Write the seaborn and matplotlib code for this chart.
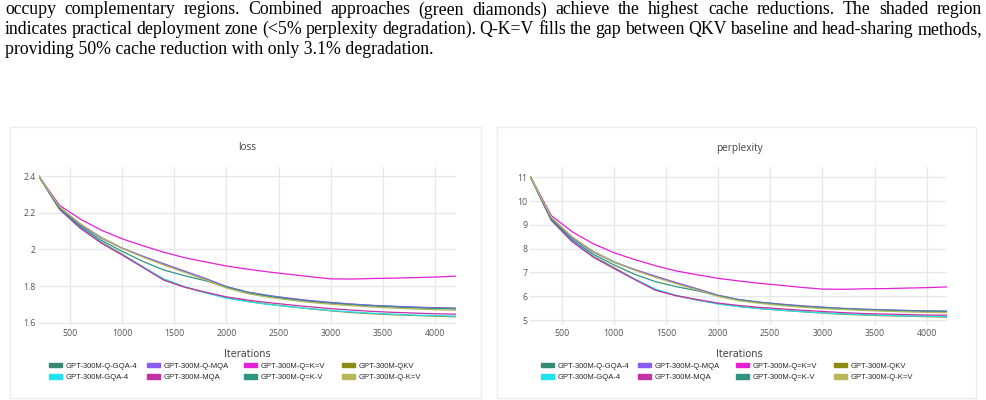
import matplotlib

matplotlib.use("Agg")
import matplotlib.pyplot as plt
from matplotlib.patches import Patch, Rectangle
import pandas as pd
import seaborn as sns

# ---- data ----
iterations = list(range(200, 4201, 200))

models = [
    "GPT-300M-Q-GQA-4", "GPT-300M-Q-MQA", "GPT-300M-Q=K=V", "GPT-300M-QKV",
    "GPT-300M-GQA-4", "GPT-300M-MQA", "GPT-300M-Q=K-V", "GPT-300M-Q-K=V",
]

loss_q_gqa4 = [2.400, 2.228, 2.135, 2.065, 2.008, 1.962, 1.920, 1.880, 1.840, 1.797, 1.767,
               1.748, 1.733, 1.720, 1.710, 1.702, 1.695, 1.690, 1.686, 1.682, 1.680]
loss_q_mqa = [2.400, 2.226, 2.133, 2.062, 2.006, 1.963, 1.922, 1.882, 1.842, 1.798, 1.769,
              1.750, 1.735, 1.722, 1.712, 1.703, 1.696, 1.691, 1.686, 1.683, 1.680]
loss_qkeqv = [2.400, 2.240, 2.165, 2.105, 2.058, 2.020, 1.985, 1.955, 1.932, 1.910, 1.893,
              1.878, 1.865, 1.852, 1.840, 1.839, 1.842, 1.844, 1.847, 1.850, 1.855]
loss_qkv = [2.400, 2.222, 2.120, 2.040, 1.975, 1.905, 1.835, 1.795, 1.765, 1.738, 1.718,
            1.702, 1.689, 1.677, 1.666, 1.657, 1.650, 1.645, 1.641, 1.637, 1.634]
loss_gqa4 = [2.400, 2.220, 2.118, 2.038, 1.972, 1.905, 1.840, 1.797, 1.764, 1.735, 1.716,
             1.701, 1.689, 1.678, 1.668, 1.660, 1.653, 1.648, 1.643, 1.640, 1.637]
loss_mqa = [2.400, 2.218, 2.115, 2.035, 1.970, 1.902, 1.833, 1.795, 1.768, 1.742, 1.725,
            1.711, 1.699, 1.688, 1.678, 1.670, 1.663, 1.658, 1.654, 1.650, 1.648]
loss_qk_v = [2.400, 2.222, 2.125, 2.050, 1.990, 1.935, 1.888, 1.857, 1.830, 1.795, 1.765,
             1.745, 1.730, 1.717, 1.707, 1.699, 1.692, 1.687, 1.682, 1.679, 1.676]
loss_q_kv = [2.400, 2.232, 2.140, 2.066, 2.006, 1.958, 1.915, 1.875, 1.835, 1.790, 1.760,
             1.740, 1.725, 1.712, 1.702, 1.694, 1.687, 1.681, 1.676, 1.672, 1.669]

ppl_q_gqa4 = [11.02, 9.28, 8.46, 7.89, 7.45, 7.11, 6.82, 6.55, 6.30, 6.03, 5.85,
              5.74, 5.66, 5.58, 5.53, 5.48, 5.45, 5.42, 5.40, 5.38, 5.37]
ppl_q_mqa = [11.02, 9.26, 8.44, 7.86, 7.43, 7.12, 6.84, 6.57, 6.31, 6.04, 5.86,
             5.75, 5.67, 5.60, 5.54, 5.49, 5.45, 5.43, 5.40, 5.38, 5.37]
ppl_qkeqv = [11.02, 9.39, 8.71, 8.21, 7.83, 7.54, 7.28, 7.06, 6.90, 6.75, 6.64,
             6.54, 6.46, 6.37, 6.30, 6.29, 6.31, 6.32, 6.34, 6.36, 6.39]
ppl_qkv = [11.02, 9.23, 8.33, 7.69, 7.21, 6.72, 6.26, 6.02, 5.84, 5.69, 5.57,
           5.48, 5.41, 5.35, 5.29, 5.24, 5.21, 5.18, 5.16, 5.14, 5.12]
ppl_gqa4 = [11.02, 9.21, 8.32, 7.67, 7.18, 6.72, 6.30, 6.03, 5.84, 5.67, 5.56,
            5.48, 5.41, 5.35, 5.30, 5.26, 5.22, 5.20, 5.17, 5.16, 5.14]
ppl_mqa = [11.02, 9.19, 8.29, 7.65, 7.17, 6.70, 6.25, 6.02, 5.86, 5.71, 5.61,
           5.53, 5.47, 5.41, 5.36, 5.31, 5.27, 5.25, 5.23, 5.21, 5.20]
ppl_qk_v = [11.02, 9.23, 8.37, 7.77, 7.32, 6.92, 6.61, 6.40, 6.23, 6.02, 5.84,
            5.73, 5.64, 5.57, 5.51, 5.47, 5.43, 5.40, 5.38, 5.36, 5.34]
ppl_q_kv = [11.02, 9.32, 8.50, 7.89, 7.43, 7.09, 6.79, 6.52, 6.26, 5.99, 5.81,
            5.70, 5.61, 5.54, 5.48, 5.44, 5.40, 5.37, 5.34, 5.32, 5.31]

loss_series = [loss_q_gqa4, loss_q_mqa, loss_qkeqv, loss_qkv,
               loss_gqa4, loss_mqa, loss_qk_v, loss_q_kv]
ppl_series = [ppl_q_gqa4, ppl_q_mqa, ppl_qkeqv, ppl_qkv,
              ppl_gqa4, ppl_mqa, ppl_qk_v, ppl_q_kv]

colors = ["#368a6f", "#8a5cf0", "#e51fd6", "#8c8a12",
          "#20e3ef", "#c231a6", "#2f9581", "#b9b75c"]

x_ticks = [500, 1000, 1500, 2000, 2500, 3000, 3500, 4000]
loss_ticks = [1.6, 1.8, 2.0, 2.2, 2.4]
loss_labels = ["1.6", "1.8", "2", "2.2", "2.4"]
ppl_ticks = [5, 6, 7, 8, 9, 10, 11]

caption = [
    "occupy complementary regions. Combined approaches (green diamonds) achieve the highest cache reductions. The shaded region",
    "indicates practical deployment zone (<5% perplexity degradation). Q-K=V fills the gap between QKV baseline and head-sharing methods,",
    "providing 50% cache reduction with only 3.1% degradation.",
]


# ---- long-format tables ----
def to_frame(series, metric):
    rows = []
    for name, vals in zip(models, series):
        for it, v in zip(iterations, vals):
            rows.append((name, it, v))
    return pd.DataFrame(rows, columns=["model", "iteration", metric])


loss_df = to_frame(loss_series, "loss")
ppl_df = to_frame(ppl_series, "perplexity")
palette = dict(zip(models, colors))

sns.set_theme(style="white")
plt.rcParams["font.family"] = ["Open Sans", "DejaVu Sans"]

W, H = 987, 400
fig = plt.figure(figsize=(W / 100, H / 100), dpi=100)
fig.patch.set_facecolor("white")

# caption (serif, justified on the first two lines)
renderer = fig.canvas.get_renderer()
left_px, right_px = 5, 982
cap_size = 12.8
for i, line in enumerate(caption):
    y = 1 - (10 + 19.5 * i) / H
    if i == len(caption) - 1:
        fig.text(left_px / W, y, line, family="Liberation Serif", fontsize=cap_size,
                 va="center", ha="left", color="black")
        continue
    words = line.split(" ")
    texts = [fig.text(0, y, w, family="Liberation Serif", fontsize=cap_size,
                      va="center", ha="left", color="black") for w in words]
    widths = [t.get_window_extent(renderer).width for t in texts]
    gap = (right_px - left_px - sum(widths)) / (len(words) - 1)
    xpos = left_px
    for t, w in zip(texts, widths):
        t.set_x(xpos / W)
        xpos += w + gap

# cards
for x0, x1 in [(10, 481), (497, 976)]:
    fig.add_artist(Rectangle((x0 / W, 2 / H), (x1 - x0) / W, (398 - 127) / H,
                             transform=fig.transFigure, facecolor="white",
                             edgecolor="#ececef", lw=1.0, zorder=0))

panels = [
    (loss_df, "loss", 38.7, 456.0, (1.589, 2.449), loss_ticks, loss_labels,
     [49, 147, 244, 342]),
    (ppl_df, "perplexity", 530.4, 947.5, (4.79, 11.43), ppl_ticks,
     [str(t) for t in ppl_ticks], [541, 638, 736, 834]),
]

grid_col = "#e6e6ef"
tick_col = "#555555"

for df, metric, xa, xb, ylim, yt, ylab, leg_x in panels:
    ax = fig.add_axes([xa / W, 1 - 325 / H, (xb - xa) / W, 158 / H])
    ax.set_facecolor("white")
    sns.lineplot(data=df, x="iteration", y=metric, hue="model", palette=palette,
                 hue_order=models, linewidth=0.9, legend=False, ax=ax)
    ax.set_xlim(200, 4200)
    ax.set_ylim(*ylim)
    ax.set_xticks(x_ticks)
    ax.set_xticklabels([str(t) for t in x_ticks])
    ax.set_yticks(yt)
    ax.set_yticklabels(ylab)
    ax.grid(True, color=grid_col, lw=0.9)
    ax.set_axisbelow(True)
    for s in ax.spines.values():
        s.set_visible(False)
    ax.tick_params(axis="both", length=0, labelsize=6.3, colors=tick_col, pad=3)
    ax.tick_params(axis="y", pad=2)
    ax.set_xlabel("")
    ax.set_ylabel("")

    cx = (xa + xb) / 2 / W
    fig.text(cx, 1 - 148 / H, metric, ha="center", va="center", fontsize=7.2, color="#444444")
    fig.text(cx, 1 - 354 / H, "Iterations", ha="center", va="center", fontsize=7,
             color="#444444", family=["DejaVu Sans"])

    # legend: plotly-style colour swatches, one column of two per slot
    for c, lx in enumerate(leg_x):
        idx = [c, c + 4]
        handles = [Patch(facecolor=colors[j], edgecolor=colors[j]) for j in idx]
        labels = [models[j] for j in idx]
        fig.legend(handles, labels, ncol=1, loc="upper left",
                   bbox_to_anchor=(lx / W, 1 - 362.5 / H), frameon=False,
                   handlelength=1.75, handleheight=0.6, handletextpad=0.4,
                   labelspacing=0.6, borderpad=0.0, borderaxespad=0.0,
                   prop={"family": ["Liberation Sans"], "size": 5.5})

fig.savefig("out.png", dpi=100, facecolor="white")
